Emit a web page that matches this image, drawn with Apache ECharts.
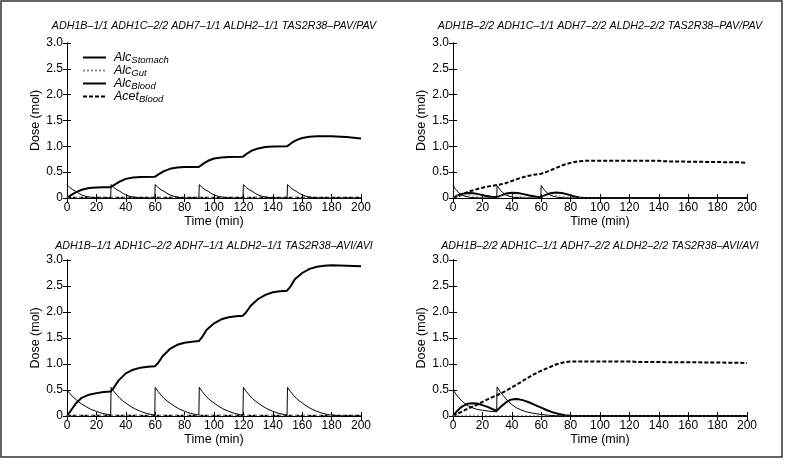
<!DOCTYPE html>
<html>
<head>
<meta charset="utf-8">
<script src="https://cdn.jsdelivr.net/npm/echarts@6/dist/echarts.min.js"></script>
<style>html,body{margin:0;padding:0;background:#fff}#c{width:787px;height:467px}</style>
</head>
<body>
<div id="c"></div>
<script>
// ---- Data (time in min, dose in mol) ----
const titles = [
  'ADH1B–1/1 ADH1C–2/2 ADH7–1/1 ALDH2–1/1 TAS2R38–PAV/PAV',
  'ADH1B–2/2 ADH1C–1/1 ADH7–2/2 ALDH2–2/2 TAS2R38–PAV/PAV',
  'ADH1B–1/1 ADH1C–2/2 ADH7–1/1 ALDH2–1/1 TAS2R38–AVI/AVI',
  'ADH1B–2/2 ADH1C–1/1 ADH7–2/2 ALDH2–2/2 TAS2R38–AVI/AVI'
];
const seriesNames = ['AlcStomach', 'AlcGut', 'AlcBlood', 'AcetBlood'];
const xTicks = [0, 20, 40, 60, 80, 100, 120, 140, 160, 180, 200];
const yTicks = [0, 0.5, 1.0, 1.5, 2.0, 2.5, 3.0];

// Panel 1: top-left
const tlStomach = [[0,0.26],[2,0.2],[4,0.16],[6,0.13],[8,0.09],[10,0.06],[13,0.03],[17,0.01],[22,0],[29.7,0],
  [30,0.26],[32,0.2],[34,0.16],[36,0.13],[38,0.09],[40,0.06],[43,0.03],[47,0.01],[52,0],[59.7,0],
  [60,0.26],[62,0.2],[64,0.16],[66,0.13],[68,0.09],[70,0.06],[73,0.03],[77,0.01],[82,0],[89.7,0],
  [90,0.26],[92,0.2],[94,0.16],[96,0.13],[98,0.09],[100,0.06],[103,0.03],[107,0.01],[112,0],[119.7,0],
  [120,0.26],[122,0.2],[124,0.16],[126,0.13],[128,0.09],[130,0.06],[133,0.03],[137,0.01],[142,0],[149.7,0],
  [150,0.26],[152,0.2],[154,0.16],[156,0.13],[158,0.09],[160,0.06],[163,0.03],[167,0.01],[172,0],[200,0]];
const tlGut = [[0,0],[3,0.008],[20,0.006],[60,0.005],[160,0.005],[200,0.003]];
const tlBlood = [[0,0],[3,0.06],[6,0.11],[10,0.16],[15,0.195],[20,0.205],[25,0.21],[29.7,0.21],
  [33,0.27],[36,0.32],[40,0.37],[45,0.395],[50,0.405],[59.7,0.41],
  [63,0.47],[66,0.52],[70,0.565],[75,0.59],[80,0.6],[89.7,0.6],
  [93,0.67],[96,0.72],[100,0.765],[105,0.785],[110,0.795],[119.7,0.8],
  [123,0.87],[126,0.92],[130,0.96],[135,0.985],[140,0.995],[149.7,1.0],
  [153,1.07],[156,1.12],[160,1.16],[165,1.185],[170,1.195],[180,1.195],[190,1.18],[200,1.15]];
const tlAcet = [[0,0],[5,0.006],[40,0.006],[120,0.006],[200,0.005]];

// Panel 2: top-right
const trStomach = [[0,0.24],[2,0.16],[4,0.1],[6,0.06],[8,0.035],[11,0.015],[15,0.005],[20,0],[29.7,0],
  [30,0.24],[32,0.16],[34,0.1],[36,0.06],[38,0.035],[41,0.015],[45,0.005],[50,0],[59.7,0],
  [60,0.24],[62,0.16],[64,0.1],[66,0.06],[68,0.035],[71,0.015],[75,0.005],[80,0],[200,0]];
const trGut = [[0,0],[2,0.035],[4,0.055],[7,0.06],[10,0.05],[14,0.035],[18,0.02],[24,0.008],[29.7,0.003],
  [32,0.035],[34,0.055],[37,0.06],[40,0.05],[44,0.035],[48,0.02],[54,0.008],[59.7,0.003],
  [62,0.035],[64,0.055],[67,0.06],[70,0.05],[74,0.035],[78,0.02],[84,0.008],[90,0.002],[100,0],[200,0]];
const trBlood = [[0,0],[3,0.05],[6,0.08],[10,0.095],[14,0.09],[18,0.07],[22,0.045],[26,0.025],[29.7,0.015],
  [33,0.05],[36,0.085],[40,0.1],[44,0.095],[48,0.075],[52,0.05],[56,0.03],[59.7,0.015],
  [63,0.06],[66,0.09],[70,0.105],[74,0.095],[78,0.07],[82,0.035],[86,0.01],[90,0],[200,0]];
const trAcet = [[0,0],[5,0.05],[10,0.12],[15,0.16],[20,0.2],[25,0.23],[30,0.25],[35,0.28],[40,0.33],
  [45,0.38],[50,0.42],[55,0.45],[60,0.47],[65,0.52],[70,0.58],[75,0.64],[80,0.68],[85,0.71],[90,0.72],
  [140,0.72],[143,0.71],[195,0.69],[200,0.68]];

// Panel 3: bottom-left
const blStomach = [[0,0.5],[2,0.43],[4,0.37],[6,0.32],[8,0.27],[10,0.23],[13,0.18],[16,0.13],[20,0.09],[24,0.05],[28,0.03],[29.7,0.02],
  [30,0.55],[32,0.47],[34,0.4],[36,0.34],[38,0.29],[40,0.25],[43,0.19],[46,0.14],[50,0.09],[54,0.05],[58,0.025],[59.7,0.02],
  [60,0.55],[62,0.47],[64,0.4],[66,0.34],[68,0.29],[70,0.25],[73,0.19],[76,0.14],[80,0.09],[84,0.05],[88,0.025],[89.7,0.02],
  [90,0.55],[92,0.47],[94,0.4],[96,0.34],[98,0.29],[100,0.25],[103,0.19],[106,0.14],[110,0.09],[114,0.05],[118,0.025],[119.7,0.02],
  [120,0.55],[122,0.47],[124,0.4],[126,0.34],[128,0.29],[130,0.25],[133,0.19],[136,0.14],[140,0.09],[144,0.05],[148,0.025],[149.7,0.02],
  [150,0.55],[152,0.47],[154,0.4],[156,0.34],[158,0.29],[160,0.25],[163,0.19],[166,0.14],[170,0.09],[174,0.05],[178,0.025],[184,0.008],[190,0],[200,0]];
const blGut = [[0,0],[3,0.01],[30,0.01],[100,0.01],[200,0.008]];
const blBlood = [[0,0],[3,0.12],[6,0.24],[10,0.35],[15,0.41],[20,0.44],[25,0.46],[29.7,0.47],
  [32,0.55],[35,0.68],[40,0.82],[45,0.89],[50,0.93],[55,0.945],[59.7,0.955],
  [62,1.02],[65,1.15],[70,1.29],[75,1.37],[80,1.41],[85,1.43],[89.7,1.44],
  [92,1.52],[95,1.66],[100,1.78],[105,1.86],[110,1.9],[115,1.92],[119.7,1.93],
  [122,2.0],[125,2.12],[130,2.25],[135,2.33],[140,2.38],[145,2.4],[149.7,2.41],
  [152,2.49],[155,2.63],[160,2.75],[165,2.83],[170,2.87],[175,2.89],[180,2.9],[190,2.89],[200,2.88]];
const blAcet = [[0,0],[5,0.006],[50,0.006],[150,0.006],[200,0.005]];

// Panel 4: bottom-right
const brStomach = [[0,0.5],[2,0.42],[4,0.35],[6,0.29],[8,0.24],[10,0.2],[13,0.16],[16,0.13],[20,0.11],[25,0.09],[29.7,0.08],
  [30,0.56],[32,0.47],[34,0.4],[36,0.33],[38,0.27],[40,0.22],[43,0.16],[46,0.12],[50,0.08],[55,0.05],[60,0.03],[65,0.015],[70,0.005],[75,0],[200,0]];
const brGut = [[0,0],[3,0.01],[10,0.015],[20,0.012],[30,0.01],[40,0.01],[60,0.005],[80,0],[200,0]];
const brBlood = [[0,0],[2,0.07],[4,0.13],[6,0.18],[8,0.21],[10,0.235],[13,0.245],[16,0.24],[20,0.21],[24,0.17],[27,0.13],[29.7,0.1],
  [31,0.12],[33,0.19],[36,0.26],[39,0.31],[42,0.325],[45,0.32],[48,0.3],[52,0.26],[56,0.21],[60,0.16],[64,0.11],[68,0.07],[72,0.04],[76,0.015],[80,0.005],[85,0],[200,0]];
const brAcet = [[0,0],[5,0.07],[10,0.14],[15,0.2],[20,0.27],[25,0.34],[30,0.4],[35,0.47],[40,0.55],[45,0.63],[50,0.72],
  [55,0.8],[60,0.87],[65,0.93],[70,0.99],[75,1.03],[80,1.05],[120,1.05],[125,1.04],[175,1.03],[200,1.02]];

const panels = [
  [tlStomach, tlGut, tlBlood, tlAcet],
  [trStomach, trGut, trBlood, trAcet],
  [blStomach, blGut, blBlood, blAcet],
  [brStomach, brGut, brBlood, brAcet]
];

// ---- Layout ----
const FONT = "'Liberation Sans', Arial, sans-serif";
const grids = [
  {left: 67, top: 43, width: 294, height: 155},
  {left: 453, top: 43, width: 294, height: 155},
  {left: 67, top: 260, width: 294, height: 156},
  {left: 453, top: 260, width: 294, height: 156}
];
const titleY = [26.5, 26.5, 246.5, 246.5];
const lineStyles = [
  {color: '#000', width: 1, type: 'solid'},
  {color: '#888', width: 1, type: [2, 2]},
  {color: '#000', width: 2, type: 'solid'},
  {color: '#000', width: 2, type: [4, 2]}
];

const xAxes = [], yAxes = [], series = [], graphics = [];
const axisLineStyle = {show: true, lineStyle: {color: '#000', width: 1}};
grids.forEach((g, i) => {
  xAxes.push({
    gridIndex: i, type: 'value', min: xTicks[0], max: xTicks[xTicks.length - 1], interval: 20,
    position: 'bottom', splitLine: {show: false}, axisLine: axisLineStyle,
    axisTick: {inside: true, length: 4, lineStyle: {color: '#000'}},
    axisLabel: {color: '#000', fontSize: 12, fontFamily: FONT, margin: 4},
    name: 'Time (min)', nameLocation: 'middle', nameGap: 17,
    nameTextStyle: {color: '#000', fontSize: 12.5, fontFamily: FONT}
  });
  yAxes.push({
    gridIndex: i, type: 'value', min: yTicks[0], max: yTicks[yTicks.length - 1], interval: 0.5,
    position: 'left', splitLine: {show: false}, axisLine: axisLineStyle,
    axisTick: {inside: true, length: 4, lineStyle: {color: '#000'}},
    axisLabel: {color: '#000', fontSize: 12, fontFamily: FONT, margin: 4,
      formatter: v => v === 0 ? '0' : v.toFixed(1)},
    name: 'Dose (mol)', nameLocation: 'middle', nameGap: 18,
    nameTextStyle: {color: '#000', fontSize: 12.5, fontFamily: FONT}
  });
});
grids.forEach((g, i) => {
  xAxes.push({
    gridIndex: i, type: 'value', min: 0, max: 200, interval: 20, position: 'top',
    splitLine: {show: false}, axisLine: axisLineStyle,
    axisTick: {inside: true, length: 4, lineStyle: {color: '#000'}}, axisLabel: {show: false}
  });
  yAxes.push({
    gridIndex: i, type: 'value', min: 0, max: 3, interval: 0.5, position: 'right',
    splitLine: {show: false}, axisLine: axisLineStyle,
    axisTick: {inside: true, length: 4, lineStyle: {color: '#000'}}, axisLabel: {show: false}
  });
  graphics.push({
    type: 'text', x: g.left + g.width / 2, y: titleY[i],
    style: {text: titles[i], align: 'center', verticalAlign: 'middle', fill: '#000',
      font: 'italic 10.7px ' + FONT}
  });
  panels[i].forEach((data, k) => {
    series.push({
      name: seriesNames[k], type: 'line', xAxisIndex: i, yAxisIndex: i, data: data,
      symbol: 'none', showSymbol: false, smooth: false, animation: false,
      color: lineStyles[k].color, lineStyle: lineStyles[k], z: 10 - k
    });
  });
});
graphics.push({
  type: 'rect', shape: {x: 1, y: 1, width: 781, height: 456},
  style: {fill: 'none', stroke: '#333', lineWidth: 1.5}, silent: true, z: -1
});

const legendLabels = {
  AlcStomach: '{m|Alc}{s|Stomach}',
  AlcGut: '{m|Alc}{s|Gut}',
  AlcBlood: '{m|Alc}{s|Blood}',
  AcetBlood: '{m|Acet}{s|Blood}'
};

const chart = echarts.init(document.getElementById('c'), null, {renderer: 'canvas'});
chart.setOption({
  backgroundColor: '#fff',
  animation: false,
  grid: grids,
  xAxis: xAxes,
  yAxis: yAxes,
  legend: {
    data: seriesNames, orient: 'vertical', left: 77, top: 46,
    itemWidth: 23, itemHeight: 10, itemGap: -1, selectedMode: false,
    itemStyle: {opacity: 0},
    formatter: n => legendLabels[n],
    textStyle: {
      color: '#000',
      rich: {
        m: {fontSize: 12.5, fontStyle: 'italic', fontFamily: FONT, color: '#000', padding: [0, 0, 0, 3]},
        s: {fontSize: 9.5, fontStyle: 'italic', fontFamily: FONT, color: '#000', padding: [5, 0, 0, 0]}
      }
    }
  },
  graphic: graphics,
  series: series
});
</script>
</body>
</html>
